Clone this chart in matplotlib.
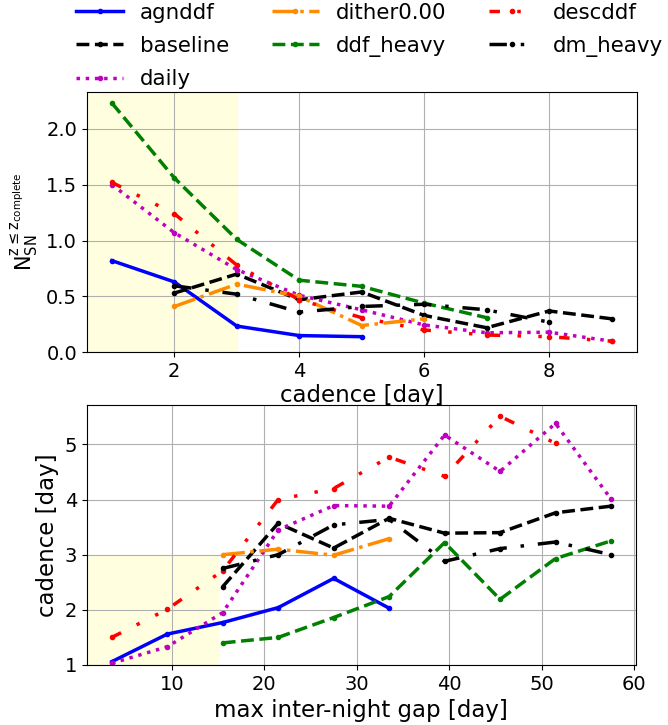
import matplotlib
matplotlib.use('Agg')
import matplotlib.pyplot as plt

# top panel: N_SN vs cadence
agnddf_cad = [1, 2, 3, 4, 5]
agnddf_nsn = [0.82, 0.63, 0.235, 0.15, 0.14]
baseline_cad = [2, 3, 4, 5, 6, 7, 8, 9]
baseline_nsn = [0.53, 0.70, 0.47, 0.54, 0.33, 0.22, 0.37, 0.30]
daily_cad = [1, 2, 3, 4, 5, 6, 7, 8, 9]
daily_nsn = [1.50, 1.07, 0.74, 0.51, 0.38, 0.245, 0.175, 0.18, 0.10]
dither_cad = [2, 3, 4, 5, 6]
dither_nsn = [0.41, 0.61, 0.50, 0.24, 0.30]
ddfheavy_cad = [1, 2, 3, 4, 5, 6, 7]
ddfheavy_nsn = [2.23, 1.56, 1.01, 0.645, 0.59, 0.44, 0.31]
descddf_cad = [1, 2, 3, 4, 5, 6, 7, 8, 9]
descddf_nsn = [1.52, 1.24, 0.78, 0.47, 0.31, 0.20, 0.155, 0.14, 0.10]
dmheavy_cad = [2, 3, 4, 5, 6, 7, 8]
dmheavy_nsn = [0.595, 0.52, 0.36, 0.41, 0.43, 0.38, 0.27]

# bottom panel: cadence vs max inter-night gap
agnddf_gap = [3.5, 9.5, 15.5, 21.5, 27.5, 33.5]
agnddf_c = [1.06, 1.56, 1.77, 2.04, 2.57, 2.03]
baseline_gap = [15.5, 21.5, 27.5, 33.5, 39.5, 45.5, 51.5, 57.5]
baseline_c = [2.42, 3.57, 3.12, 3.66, 3.39, 3.40, 3.76, 3.88]
daily_gap = [3.5, 9.5, 15.5, 21.5, 27.5, 33.5, 39.5, 45.5, 51.5, 57.5]
daily_c = [1.03, 1.33, 1.95, 3.45, 3.89, 3.88, 5.17, 4.51, 5.38, 4.01]
dither_gap = [15.5, 21.5, 27.5, 33.5]
dither_c = [3.0, 3.10, 2.99, 3.29]
ddfheavy_gap = [15.5, 21.5, 27.5, 33.5, 39.5, 45.5, 51.5, 57.5]
ddfheavy_c = [1.40, 1.50, 1.86, 2.24, 3.22, 2.19, 2.93, 3.25]
descddf_gap = [3.5, 9.5, 15.5, 21.5, 27.5, 33.5, 39.5, 45.5, 51.5]
descddf_c = [1.50, 2.01, 2.71, 4.0, 4.2, 4.77, 4.42, 5.51, 5.02]
dmheavy_gap = [15.5, 21.5, 27.5, 33.5, 39.5, 45.5, 51.5, 57.5]
dmheavy_c = [2.75, 3.0, 3.54, 3.64, 2.88, 3.11, 3.23, 3.0]

lw = 2.5
styles = {
    'agnddf': ('b', '-'),
    'baseline': ('k', '--'),
    'daily': ('m', ':'),
    'dither0.00': ('darkorange', '-.'),
    'ddf_heavy': ('g', '--'),
    'descddf': ('r', (0, (3, 5, 1, 5, 1, 5))),
    'dm_heavy': ('k', (0, (5, 4, 1, 4))),
}
top = {
    'agnddf': (agnddf_cad, agnddf_nsn),
    'baseline': (baseline_cad, baseline_nsn),
    'daily': (daily_cad, daily_nsn),
    'dither0.00': (dither_cad, dither_nsn),
    'ddf_heavy': (ddfheavy_cad, ddfheavy_nsn),
    'descddf': (descddf_cad, descddf_nsn),
    'dm_heavy': (dmheavy_cad, dmheavy_nsn),
}
bottom = {
    'agnddf': (agnddf_gap, agnddf_c),
    'baseline': (baseline_gap, baseline_c),
    'daily': (daily_gap, daily_c),
    'dither0.00': (dither_gap, dither_c),
    'ddf_heavy': (ddfheavy_gap, ddfheavy_c),
    'descddf': (descddf_gap, descddf_c),
    'dm_heavy': (dmheavy_gap, dmheavy_c),
}

fig = plt.figure(figsize=(6.68, 7.25), dpi=100)
ax1 = fig.add_axes([0.130, 0.514, 0.823, 0.3594])
ax2 = fig.add_axes([0.130, 0.0828, 0.822, 0.359])

ax1.axvspan(0.6, 3, color='lightyellow', zorder=0)
for name, (x, y) in top.items():
    c, ls = styles[name]
    ax1.plot(x, y, color=c, ls=ls, lw=lw, marker='.', ms=6, label=name)
ax1.set_xlim(0.6, 9.4)
ax1.set_ylim(0, 2.33)
ax1.set_xticks([2, 4, 6, 8])
ax1.set_yticks([0, 0.5, 1.0, 1.5, 2.0])
ax1.grid(True)
ax1.set_xlabel('cadence [day]', fontsize=16.5, labelpad=2)
ax1.set_ylabel(r'$\mathrm{N_{SN}^{z\leq z_{complete}}}$', fontsize=15)
ax1.tick_params(labelsize=14)

ax2.fill_between([0.8, 15], 1, 3, color='lightyellow', zorder=0)
for name, (x, y) in bottom.items():
    c, ls = styles[name]
    ax2.plot(x, y, color=c, ls=ls, lw=lw, marker='.', ms=6)
ax2.set_xlim(0.8, 60.2)
ax2.set_ylim(1, 5.72)
ax2.set_xticks([10, 20, 30, 40, 50, 60])
ax2.set_yticks([1, 2, 3, 4, 5])
ax2.grid(True)
ax2.set_xlabel('max inter-night gap [day]', fontsize=16.5)
ax2.set_ylabel('cadence [day]', fontsize=16.5)
ax2.tick_params(labelsize=14)

fig.legend(*ax1.get_legend_handles_labels(), loc='upper left',
           bbox_to_anchor=(0.098, 1.011), ncol=3, frameon=False,
           fontsize=15.4, borderpad=0, handlelength=2.2, handletextpad=0.78,
           columnspacing=2.0, labelspacing=0.62)

fig.savefig('out.png', dpi=100)
